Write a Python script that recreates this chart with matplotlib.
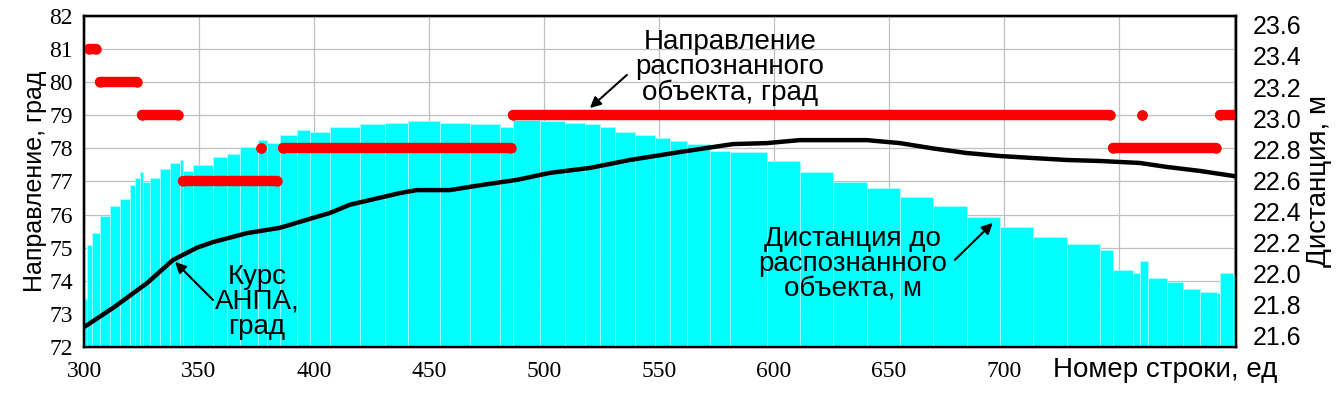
import matplotlib
matplotlib.use('Agg')
import matplotlib.pyplot as plt

# Course of the vehicle, degrees (row number -> value)
course_rows = [300, 312.6, 327.4, 338.7, 349.1, 356.1, 370.9, 385.2, 399.6, 407,
               415.7, 437.4, 444.8, 459.1, 473.5, 488.3, 502.6, 520, 537.4, 559.1,
               573.5, 582.2, 597, 611.3, 640.4, 654.8, 669.1, 683.9, 698.3, 712.6,
               727.4, 741.7, 759.1, 770.9, 785.2, 799.6, 801]
course_deg = [72.6, 73.18, 73.93, 74.63, 75.0, 75.17, 75.44, 75.6, 75.9, 76.05,
              76.3, 76.65, 76.74, 76.74, 76.9, 77.05, 77.26, 77.41, 77.65, 77.89,
              78.04, 78.13, 78.16, 78.25, 78.25, 78.16, 78.0, 77.86, 77.77, 77.71,
              77.65, 77.62, 77.56, 77.44, 77.32, 77.17, 77.15]

# Direction to the recognised object: runs of constant value
dir_start = [302, 307, 325, 343, 377, 386.5, 486.5, 747.5, 760, 794]
dir_end = [305, 323, 341, 384, 377, 485.5, 746, 792.5, 760, 802]
dir_value = [81, 80, 79, 77, 78, 78, 79, 78, 79, 79]

# Distance to the recognised object, m
dist_rows = [300.0, 301.3, 303.5, 307.0, 311.3, 315.7, 320.0, 322.2, 324.3, 325.7,
             328.7, 333.0, 337.4, 341.7, 343.0, 347.4, 356.1, 362.2, 367.8, 375.7,
             379.6, 385.2, 392.6, 398.3, 407.0, 420.0, 430.9, 440.9, 454.8, 467.8,
             480.9, 486.5, 498.3, 509.1, 517.8, 524.3, 530.9, 539.6, 548.3, 554.8,
             562.2, 572.2, 580.9, 597.0, 611.3, 625.7, 640.4, 654.8, 669.1, 683.9,
             698.3, 712.6, 727.4, 741.7, 747.4, 756.1, 759.1, 762.6, 770.9, 777.8,
             785.2, 792.6, 793.9, 799.6, 801.0]
dist_m = [21.83, 22.18, 22.26, 22.37, 22.43, 22.48, 22.57, 22.61, 22.65, 22.59,
          22.61, 22.67, 22.71, 22.73, 22.66, 22.70, 22.75, 22.77, 22.81, 22.86,
          22.84, 22.89, 22.92, 22.91, 22.94, 22.96, 22.97, 22.98, 22.97, 22.96,
          22.94, 22.99, 22.98, 22.97, 22.96, 22.94, 22.91, 22.89, 22.87, 22.85,
          22.83, 22.79, 22.78, 22.72, 22.65, 22.59, 22.55, 22.49, 22.43, 22.36,
          22.30, 22.23, 22.19, 22.15, 22.02, 22.00, 22.08, 21.97, 21.94, 21.90,
          21.88, 21.87, 22.00, 21.99, 21.99]

x_ticks = [300, 350, 400, 450, 500, 550, 600, 650, 700, 750, 800]
x_tick_labels = ['300', '350', '400', '450', '500', '550', '600', '650', '700', '', '']
deg_ticks = [72, 73, 74, 75, 76, 77, 78, 79, 80, 81, 82]
dist_ticks = [21.6, 21.8, 22.0, 22.2, 22.4, 22.6, 22.8, 23.0, 23.2, 23.4, 23.6]

SANS = ['Liberation Sans', 'DejaVu Sans']
SERIF = ['Liberation Serif', 'DejaVu Serif']


def main():
    fig = plt.figure(figsize=(13.4, 3.94), dpi=100)
    ax = fig.add_axes([0.0627, 0.1193, 0.8597, 0.8401])

    # degree axis: grid + left labels
    ax.set_xlim(300, 801)
    ax.set_ylim(72, 82)
    ax.set_xticks(x_ticks)
    ax.set_xticklabels(x_tick_labels, family=SERIF, fontsize=17)
    ax.set_yticks(deg_ticks)
    ax.set_yticklabels([str(v) for v in deg_ticks], family=SERIF, fontsize=17)
    ax.tick_params(axis='y', length=0, pad=8)
    ax.tick_params(axis='x', length=0, pad=10)
    ax.grid(True, color='#c0c0c0', lw=0.9)
    ax.set_axisbelow(True)
    ax.set_ylabel('Направление, град', family=SANS, fontsize=18, labelpad=2)

    # distance axis: bars + right labels
    axb = ax.twinx()
    axb.set_ylim(21.523, 23.658)
    widths = [dist_rows[i + 1] - dist_rows[i] for i in range(len(dist_rows) - 1)] + [1]
    bottoms = [21.0] * len(dist_m)
    axb.bar(dist_rows, [d - 21.0 for d in dist_m], width=widths, bottom=bottoms,
            align='edge', color='#00ffff', edgecolor='#a8ffff', linewidth=0.6)
    axb.set_yticks(dist_ticks)
    axb.set_yticklabels(['%.1f' % v for v in dist_ticks], family=SANS, fontsize=18)
    axb.tick_params(length=0, pad=12)
    axb.set_ylabel('Дистанция, м', family=SANS, fontsize=20, labelpad=3)

    # top layer: course line and direction dots
    axl = ax.twinx()
    axl.set_ylim(72, 82)
    axl.set_yticks([])
    axl.plot(course_rows, course_deg, color='black', lw=3.2)
    for s, e, v in zip(dir_start, dir_end, dir_value):
        axl.plot([s, e], [v, v], color='#ff0000', lw=7.5, solid_capstyle='round',
                 marker='o', ms=7.5, mew=0)

    for a in (ax, axb, axl):
        for sp in a.spines.values():
            sp.set_linewidth(1.6)
            sp.set_color('black')

    arrow = dict(arrowstyle='-|>', color='black', lw=1.5, mutation_scale=16,
                 shrinkA=0, shrinkB=0)
    axl.text(580.9, 80.44, 'Направление\nраспознанного\nобъекта, град', family=SANS,
             fontsize=20, ha='center', va='center', linespacing=0.95)
    axl.annotate('', xy=(520, 79.22), xytext=(536.1, 80.22), arrowprops=arrow)

    axl.text(375.2, 73.36, 'Курс\nАНПА,\nград', family=SANS, fontsize=20,
             ha='center', va='center', linespacing=0.95)
    axl.annotate('', xy=(339.6, 74.57), xytext=(356.1, 73.42), arrowprops=arrow)

    axl.text(634.3, 74.51, 'Дистанция до\nраспознанного\nобъекта, м', family=SANS,
             fontsize=20, ha='center', va='center', linespacing=0.95)
    axl.annotate('', xy=(695.2, 75.75), xytext=(678.7, 74.63), arrowprops=arrow)

    fig.text(0.786, 0.061, 'Номер строки, ед', family=SANS, fontsize=20,
             ha='left', va='center')

    fig.savefig('out.png', dpi=100)


if __name__ == "__main__":
    main()
